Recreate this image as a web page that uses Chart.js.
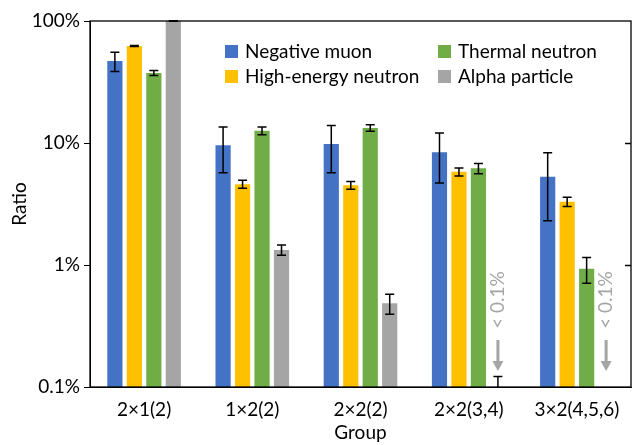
<!DOCTYPE html>
<html lang="en">
<head>
    <meta charset="UTF-8">
    <title>Ratio by group</title>
    <script src="https://cdn.jsdelivr.net/npm/chart.js"></script>
    <style>
        body { margin: 0; background: #fff; }
        #wrap { width: 633px; height: 445px; }
    </style>
</head>
<body>
    <div id="wrap"><canvas id="myChart"></canvas></div>
    <script>
        // data (values in %)
        const categories = ['2×1(2)', '1×2(2)', '2×2(2)', '2×2(3,4)', '3×2(4,5,6)'];
        const seriesNames = ['Negative muon', 'High-energy neutron', 'Thermal neutron', 'Alpha particle'];
        const muon = [47, 9.6, 9.8, 8.4, 5.3];
        const muonErr = [8.5, 3.9, 4.1, 3.7, 3.0];
        const highEnergy = [62.4, 4.6, 4.5, 5.8, 3.3];
        const highEnergyErr = [0.7, 0.35, 0.33, 0.44, 0.29];
        const thermal = [37.5, 12.6, 13.3, 6.2, 0.93];
        const thermalErr = [1.7, 0.9, 0.8, 0.6, 0.22];
        const alpha = [100, 1.33, 0.485, 0.06, 0.05];
        const alphaErr = [0.5, 0.13, 0.09, 0.062, 0];
        const tickValues = [0.1, 1, 10, 100];
        const tickLabels = ['0.1%', '1%', '10%', '100%'];
        const yMin = 0.1, yMax = 100;

        const colors = ['#4472C4', '#FFC000', '#70AD47', '#A5A5A5'];
        const values = [muon, highEnergy, thermal, alpha];
        const errors = [muonErr, highEnergyErr, thermalErr, alphaErr];
        const FONT = 'Lato, "Open Sans", sans-serif';

        // error bars, frame, legend and "< 0.1%" notes
        const extras = {
            id: 'extras',
            afterDatasetsDraw(chart) {
                const ctx = chart.ctx;
                const area = chart.chartArea;
                const y = chart.scales.y;
                ctx.save();
                ctx.beginPath();
                ctx.rect(area.left, area.top - 2, area.right - area.left, area.bottom - area.top + 2);
                ctx.clip();
                ctx.strokeStyle = '#000';
                ctx.lineWidth = 1.5;
                chart.data.datasets.forEach((ds, i) => {
                    const meta = chart.getDatasetMeta(i);
                    ds.data.forEach((v, j) => {
                        const e = errors[i][j];
                        if (v == null || !e) return;
                        const x = meta.data[j].x;
                        const hi = v + e, lo = v - e;
                        const yHi = y.getPixelForValue(hi);
                        const yLo = lo > 0 ? y.getPixelForValue(lo) : area.bottom + 10;
                        ctx.beginPath();
                        ctx.moveTo(x, yHi); ctx.lineTo(x, yLo);
                        ctx.moveTo(x - 4.5, yHi); ctx.lineTo(x + 4.5, yHi);
                        ctx.moveTo(x - 4.5, yLo); ctx.lineTo(x + 4.5, yLo);
                        ctx.stroke();
                    });
                });
                ctx.restore();

                // below-axis notes
                const gray = colors[3];
                const meta = chart.getDatasetMeta(3);
                alpha.forEach((v, j) => {
                    if (v >= yMin) return;
                    const x = meta.data[j].x;
                    ctx.save();
                    ctx.translate(x, area.bottom - 87);
                    ctx.rotate(-Math.PI / 2);
                    ctx.fillStyle = gray;
                    ctx.font = '19px ' + FONT;
                    ctx.textAlign = 'center';
                    ctx.textBaseline = 'middle';
                    ctx.fillText('< 0.1%', 0, 0);
                    ctx.restore();
                    ctx.save();
                    ctx.fillStyle = gray;
                    ctx.fillRect(x - 1.5, area.bottom - 47, 3, 22);
                    ctx.beginPath();
                    ctx.moveTo(x - 5.5, area.bottom - 26);
                    ctx.lineTo(x + 5.5, area.bottom - 26);
                    ctx.lineTo(x, area.bottom - 16);
                    ctx.closePath();
                    ctx.fill();
                    ctx.restore();
                });
            },
            afterDraw(chart) {
                const ctx = chart.ctx;
                const area = chart.chartArea;
                const y = chart.scales.y;
                ctx.save();
                ctx.strokeStyle = '#000';
                ctx.lineWidth = 1.3;
                ctx.strokeRect(area.left, area.top, area.right - area.left, area.bottom - area.top);
                ctx.beginPath();
                [1, 10].forEach(v => {
                    const py = Math.round(y.getPixelForValue(v)) + 0.5;
                    ctx.moveTo(area.right, py); ctx.lineTo(area.right - 6, py);
                });
                ctx.stroke();

                // legend, two columns inside the plot
                ctx.font = '19px ' + FONT;
                ctx.textBaseline = 'middle';
                ctx.fillStyle = '#000';
                chart.data.datasets.forEach((ds, i) => {
                    const col = Math.floor(i / 2), row = i % 2;
                    const lx = area.left + 135 + col * 213;
                    const ly = area.top + 30 + row * 25;
                    ctx.fillStyle = colors[i];
                    ctx.fillRect(lx, ly - 6, 13, 13);
                    ctx.fillStyle = '#000';
                    ctx.fillText(ds.label, lx + 20, ly + 1);
                });
                ctx.restore();
            }
        };

        const ctx = document.getElementById('myChart').getContext('2d');
        new Chart(ctx, {
            type: 'bar',
            data: {
                labels: categories,
                datasets: values.map((arr, i) => ({
                    label: seriesNames[i],
                    data: arr,
                    backgroundColor: colors[i],
                    borderWidth: 0,
                    categoryPercentage: 0.72,
                    barPercentage: 0.78
                }))
            },
            options: {
                responsive: true,
                maintainAspectRatio: false,
                animation: false,
                layout: { padding: { top: 21, right: 2, left: 0, bottom: 0 } },
                plugins: {
                    legend: { display: false },
                    tooltip: { enabled: false }
                },
                scales: {
                    x: {
                        grid: { display: false },
                        border: { display: true, color: '#000' },
                        ticks: { color: '#000', font: { family: FONT, size: 19 }, padding: 3, maxRotation: 0 },
                        title: { display: true, text: 'Group', color: '#000', font: { family: FONT, size: 19 }, padding: { top: 0, bottom: 1 } },
                        afterFit(scale) { scale.height = 58; }
                    },
                    y: {
                        type: 'logarithmic',
                        min: yMin,
                        max: yMax,
                        grid: { drawOnChartArea: false, drawTicks: true, tickLength: 6, color: '#000' },
                        border: { display: true, color: '#000' },
                        afterBuildTicks(scale) {
                            scale.ticks = tickValues.map(v => ({ value: v }));
                        },
                        ticks: {
                            color: '#000',
                            font: { family: FONT, size: 19 },
                            padding: 4,
                            callback: (v) => tickLabels[tickValues.indexOf(v)]
                        },
                        title: { display: true, text: 'Ratio', color: '#000', font: { family: FONT, size: 19 }, padding: { top: 8, bottom: 0 } },
                        afterFit(scale) { scale.width = 90; }
                    }
                }
            },
            plugins: [extras]
        });
    </script>
</body>
</html>
